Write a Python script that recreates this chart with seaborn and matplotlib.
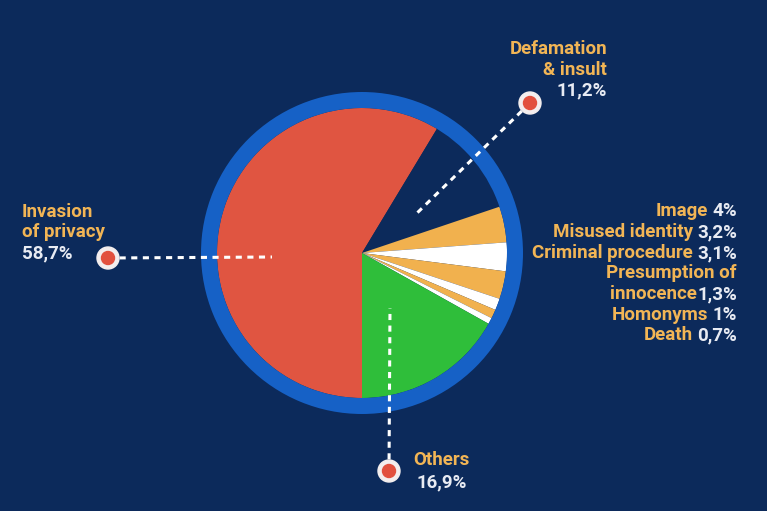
import matplotlib
matplotlib.use("Agg")
import matplotlib.pyplot as plt
from matplotlib.patches import Wedge, Circle
import seaborn as sns

# data
categories = ["Invasion of privacy", "Defamation & insult", "Image", "Misused identity",
              "Criminal procedure", "Presumption of innocence", "Homonyms", "Death", "Others"]
shares = [58.7, 11.2, 4.0, 3.2, 3.1, 1.3, 1.0, 0.7, 16.9]
value_labels = ["58,7%", "11,2%", "4%", "3,2%", "3,1%", "1,3%", "1%", "0,7%", "16,9%"]

BG = "#0c2a5b"
slice_colors = ["#e05541", BG, "#f1b14e", "#ffffff", "#f1b14e",
                "#ffffff", "#f1b14e", "#ffffff", "#2fbe3a"]
RING = "#1661c6"
LABEL_COLOR = "#f2b555"
VALUE_COLOR = "#e8ebf3"

sns.set_theme(style="dark", rc={"figure.facecolor": BG, "axes.facecolor": BG})
plt.rcParams["font.family"] = ["Roboto", "DejaVu Sans"]

W, H = 767, 511
fig = plt.figure(figsize=(W / 100, H / 100), dpi=100)
ax = fig.add_axes([0, 0, 1, 1])

def Y(y):  # image row -> data y
    return H - y

cx, cy, r = 362, Y(253), 145
ax.pie(shares, colors=slice_colors, startangle=-90, counterclock=False,
       center=(cx, cy), radius=r, frame=True, wedgeprops=dict(linewidth=0))
ax.add_patch(Wedge((cx, cy), 161, 0, 360, width=16, color=RING, lw=0))

ax.set_xlim(0, W)
ax.set_ylim(0, H)
ax.set_aspect("equal")
ax.axis("off")

# leader lines and markers
dash = dict(color="white", lw=2.2, dashes=(2.0, 1.8), solid_capstyle="butt", zorder=5)
leaders = [((108, 258), (272, 257)),
           ((530, 103), (414, 216)),
           ((389, 471), (390, 308))]
for (x0, y0), (x1, y1) in leaders:
    ax.plot([x0, x1], [Y(y0), Y(y1)], **dash)
    ax.add_patch(Circle((x0, Y(y0)), 11, color="#f4eeee", zorder=6))
    ax.add_patch(Circle((x0, Y(y0)), 6.5, color="#e2503e", zorder=7))

font = dict(fontsize=13.5, fontweight="bold", va="baseline")
renderer = fig.canvas.get_renderer()

def put(x, y, s, color, ha):
    return ax.text(x, Y(y), s, color=color, ha=ha, **font)

def two_tone(x, y, label, value, gap=4):
    t = put(x, y, value, VALUE_COLOR, "right")
    w = t.get_window_extent(renderer).width
    put(x - w - gap, y, label, LABEL_COLOR, "right")

# invasion of privacy
put(22, 217, "Invasion", LABEL_COLOR, "left")
put(22, 237, "of privacy", LABEL_COLOR, "left")
put(22, 258, value_labels[0], VALUE_COLOR, "left")

# defamation
put(607, 54, "Defamation", LABEL_COLOR, "right")
put(607, 75, "& insult", LABEL_COLOR, "right")
put(607, 95, value_labels[1], VALUE_COLOR, "right")

# small categories on the right
rx = 737
two_tone(rx, 216, "Image", value_labels[2])
two_tone(rx, 237, "Misused identity", value_labels[3])
two_tone(rx, 258, "Criminal procedure", value_labels[4])
put(rx, 278, "Presumption of", LABEL_COLOR, "right")
two_tone(rx, 299, "innocence", value_labels[5], gap=0)
two_tone(rx, 320, "Homonyms", value_labels[6])
two_tone(rx, 340, "Death", value_labels[7])

# others
put(441, 465, "Others", LABEL_COLOR, "center")
put(442, 487, value_labels[8], VALUE_COLOR, "center")

fig.savefig("out.png", dpi=100, facecolor=BG)
